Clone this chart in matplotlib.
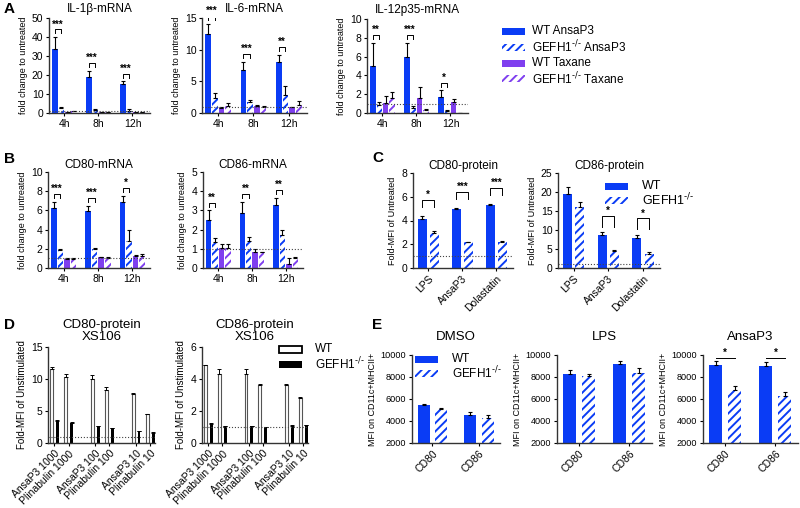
import numpy as np
import matplotlib
matplotlib.use('Agg')
import matplotlib.pyplot as plt
from matplotlib.patches import Rectangle

plt.rcParams['font.family'] = ['Liberation Sans', 'DejaVu Sans']
plt.rcParams['mathtext.default'] = 'regular'
plt.rcParams['hatch.linewidth'] = 1.4

BLUE = '#0a3cf5'
PURPLE = '#7f3fef'
KO = 'GEFH1$^{\\text{-/-}}$'

# ---- Panel A / B : mRNA, series order = WT AnsaP3, GEFH1 AnsaP3, WT Taxane, GEFH1 Taxane
timepoints = ['4h', '8h', '12h']

il1b_mean = [[33.5, 19.0, 15.3], [2.5, 1.6, 1.3], [0.5, 0.5, 0.4], [0.9, 0.5, 0.4]]
il1b_sd = [[6.5, 3.2, 1.3], [0.8, 0.5, 0.6], [0.2, 0.1, 0.1], [0.3, 0.1, 0.1]]
il1b_sig = ['***', '***', '***']

il6_mean = [[12.5, 6.8, 8.0], [2.3, 1.7, 2.8], [0.8, 1.1, 0.9], [1.1, 0.9, 1.3]]
il6_sd = [[1.6, 1.3, 1.2], [0.8, 0.4, 1.5], [0.1, 0.2, 0.1], [0.5, 0.2, 0.6]]
il6_sig = ['***', '***', '**']

il12_mean = [[5.0, 6.0, 1.7], [0.8, 0.5, 0.2], [1.1, 1.6, 1.2], [1.6, 0.3, 0.0]]
il12_sd = [[2.5, 1.5, 0.7], [0.4, 0.2, 0.1], [0.7, 1.2, 0.3], [0.6, 0.1, 0.0]]
il12_sig = ['**', '***', '*']

cd80m_mean = [[6.2, 5.9, 6.85], [1.9, 2.0, 2.8], [0.95, 1.1, 1.25], [0.95, 1.0, 1.3]]
cd80m_sd = [[0.7, 0.6, 0.7], [0.05, 0.1, 1.2], [0.1, 0.05, 0.1], [0.1, 0.1, 0.2]]
cd80m_sig = ['***', '***', '*']

cd86m_mean = [[2.5, 2.85, 3.3], [1.35, 1.4, 1.7], [1.05, 0.85, 0.2], [1.05, 0.85, 0.5]]
cd86m_sd = [[0.5, 0.6, 0.35], [0.2, 0.2, 0.3], [0.2, 0.15, 0.3], [0.2, 0.0, 0.05]]
cd86m_sig = ['**', '**', '**']

# ---- Panel C : protein, WT vs GEFH1
stimuli = ['LPS', 'AnsaP3', 'Dolastatin']
cd80p_wt = [4.15, 5.0, 5.3]
cd80p_wt_sd = [0.2, 0.02, 0.05]
cd80p_ko = [2.95, 2.15, 2.2]
cd80p_ko_sd = [0.2, 0.05, 0.05]
cd80p_sig = ['*', '***', '***']

cd86p_wt = [19.5, 8.7, 7.8]
cd86p_wt_sd = [1.8, 0.7, 1.0]
cd86p_ko = [16.0, 4.5, 3.7]
cd86p_ko_sd = [1.3, 0.2, 0.6]
cd86p_sig = ['', '*', '*']

# ---- Panel D : XS106
xs_labels = ['AnsaP3 1000', 'Plinabulin 1000', 'AnsaP3 100', 'Plinabulin 100',
             'AnsaP3 10', 'Plinabulin 10']
xs_cd80_wt = [11.6, 10.3, 10.0, 8.3, 7.7, 4.5]
xs_cd80_wt_sd = [0.2, 0.5, 0.7, 0.4, 0.1, 0.1]
xs_cd80_ko = [3.5, 3.1, 2.6, 2.3, 1.8, 1.6]
xs_cd80_ko_sd = [0.15, 0.15, 0.1, 0.1, 0.1, 0.15]

xs_cd86_wt = [4.85, 4.3, 4.3, 3.6, 3.65, 2.8]
xs_cd86_wt_sd = [0.05, 0.3, 0.3, 0.1, 0.05, 0.05]
xs_cd86_ko = [1.2, 1.05, 1.05, 1.0, 1.05, 1.1]
xs_cd86_ko_sd = [0.05, 0.03, 0.03, 0.02, 0.05, 0.05]

# ---- Panel E : MFI on CD11c+MHCII+
markers = ['CD80', 'CD86']
dmso_wt = [5450, 4550]
dmso_wt_sd = [100, 300]
dmso_ko = [5050, 4300]
dmso_ko_sd = [150, 250]

lps_wt = [8250, 9150]
lps_wt_sd = [350, 300]
lps_ko = [8100, 8350]
lps_ko_sd = [200, 500]

ansa_wt = [9050, 9000]
ansa_wt_sd = [400, 400]
ansa_ko = [6800, 6300]
ansa_ko_sd = [350, 300]
ansa_sig = ['*', '*']


fig = plt.figure(figsize=(8, 5.08), dpi=100)
W, H = 800, 508


def ax_px(x0, y0, x1, y1):
    return fig.add_axes([x0 / W, 1 - y1 / H, (x1 - x0) / W, (y1 - y0) / H])


def style(ax, ylabel, yfs=6.5):
    for s in ['top', 'right']:
        ax.spines[s].set_visible(False)
    for s in ['left', 'bottom']:
        ax.spines[s].set_linewidth(1.0)
        ax.spines[s].set_color('#333333')
    ax.tick_params(axis='both', labelsize=7.5, length=2.5, width=0.8, pad=1.5)
    ax.set_ylabel(ylabel, fontsize=yfs, labelpad=3)


def upper_err(ax, x, m, s, lw=0.8):
    ax.errorbar(x, m, yerr=[np.zeros(len(m)), s], fmt='none', ecolor='black',
                elinewidth=lw, capsize=1.5, capthick=lw)


def bracket(ax, x0, x1, y, leg, text, fs=7):
    ax.plot([x0, x0, x1, x1], [y - leg, y, y, y - leg], color='black', lw=0.7)
    ax.text((x0 + x1) / 2, y, text, ha='center', va='bottom', fontsize=fs,
            fontweight='bold')


def legend_px(styles, labels, px, py, dy, pw, ph, tx, fs):
    for k, (kw, lab) in enumerate(zip(styles, labels)):
        y = py + k * dy
        fig.add_artist(Rectangle((px / W, 1 - (y + ph / 2) / H), pw / W, ph / H,
                                 transform=fig.transFigure, **kw))
        fig.text(tx / W, 1 - y / H, lab, fontsize=fs, va='center', ha='left')


def mrna_panel(ax, means, sds, sig, ymax, step, title, pad):
    x = np.arange(len(timepoints))
    gap, w = 0.19, 0.16
    offs = [-1.5 * gap, -0.5 * gap, 0.5 * gap, 1.5 * gap]
    cols = [BLUE, BLUE, PURPLE, PURPLE]
    for i in range(4):
        xi = x + offs[i]
        if i % 2 == 0:
            ax.bar(xi, means[i], w, color=cols[i], lw=0)
        else:
            ax.bar(xi, means[i], w, color='white', edgecolor=cols[i],
                   hatch='////', lw=0)
        upper_err(ax, xi, means[i], sds[i])
    ax.axhline(1, ls=':', color='#444444', lw=0.8)
    for j in range(len(x)):
        top = means[0][j] + sds[0][j]
        bracket(ax, x[j] + offs[0], x[j] + offs[1], top + 0.08 * ymax,
                0.04 * ymax, sig[j])
    ax.set_xlim(-0.455, 2.515)
    ax.set_ylim(0, ymax)
    ax.set_yticks(np.arange(0, ymax + 0.01, step))
    ax.set_xticks(x)
    ax.set_xticklabels(timepoints, fontsize=8.5)
    ax.set_title(title, fontsize=8.5, pad=pad)
    style(ax, 'fold change to untreated')


def protein_panel(ax, wt, wt_sd, ko, ko_sd, sig, ymax, step, title, legh):
    x = np.arange(len(stimuli))
    off, w = 0.175, 0.26
    ax.bar(x - off, wt, w, color=BLUE, lw=0)
    ax.bar(x + off, ko, w, color='white', edgecolor=BLUE, hatch='////', lw=0)
    upper_err(ax, x - off, wt, wt_sd)
    upper_err(ax, x + off, ko, ko_sd)
    ax.axhline(1, ls=':', color='#444444', lw=0.8)
    for j in range(len(x)):
        if sig[j]:
            top = wt[j] + wt_sd[j]
            bracket(ax, x[j] - off, x[j] + off, top + 0.17 * ymax, legh * ymax,
                    sig[j])
    ax.set_xlim(-0.45, 2.49)
    ax.set_ylim(0, ymax)
    ax.set_yticks(np.arange(0, ymax + 0.01, step))
    ax.set_xticks(x)
    ax.set_xticklabels(stimuli, rotation=45, ha='right', rotation_mode='anchor',
                       fontsize=8)
    ax.set_title(title, fontsize=8.5, pad=3)
    style(ax, 'Fold-MFI of Untreated')


def xs_panel(ax, wt, wt_sd, ko, ko_sd, ymax, step, title):
    x = np.array([0, 1, 2.9, 3.9, 5.8, 6.8])
    off, w = 0.21, 0.2
    ax.bar(x - off, wt, w, color='white', edgecolor='#555555', lw=0.8)
    ax.bar(x + off, ko, w, color='black', lw=0)
    upper_err(ax, x - off, wt, wt_sd, lw=0.7)
    upper_err(ax, x + off, ko, ko_sd, lw=0.7)
    ax.axhline(1, ls=':', color='#444444', lw=0.8)
    ax.set_xlim(-0.46, 7.14)
    ax.set_ylim(0, ymax)
    ax.set_yticks(np.arange(0, ymax + 0.01, step))
    ax.set_xticks(x)
    ax.set_xticklabels(xs_labels, rotation=45, ha='right', rotation_mode='anchor',
                       fontsize=8)
    ax.set_title(title, fontsize=9.5, pad=5, linespacing=1.0)
    style(ax, 'Fold-MFI of Unstimulated', yfs=7)


def mfi_panel(ax, wt, wt_sd, ko, ko_sd, title, sig=None):
    x = np.arange(len(markers))
    off, w = 0.19, 0.26
    ax.bar(x - off, wt, w, color=BLUE, lw=0)
    ax.bar(x + off, ko, w, color='white', edgecolor=BLUE, hatch='////', lw=0)
    upper_err(ax, x - off, wt, wt_sd)
    upper_err(ax, x + off, ko, ko_sd)
    if sig:
        for j in range(len(x)):
            ax.plot([x[j] - off, x[j] + off], [9750, 9750], color='black', lw=0.7)
            ax.text(x[j], 9750, sig[j], ha='center', va='bottom', fontsize=7,
                    fontweight='bold')
    ax.set_xlim(-0.44, 1.45)
    ax.set_ylim(2000, 10000)
    ax.set_yticks(np.arange(2000, 10001, 2000))
    ax.set_xticks(x)
    ax.set_xticklabels(markers, rotation=45, ha='right', rotation_mode='anchor',
                       fontsize=8.5)
    ax.set_title(title, fontsize=9.5, pad=11)
    style(ax, 'MFI on CD11c+MHCII+', yfs=6.5)
    ax.tick_params(axis='y', labelsize=6.6)


# ---- A
mrna_panel(ax_px(49, 18, 150, 113), il1b_mean, il1b_sd, il1b_sig, 50, 10,
           'IL-1β-mRNA', 4)
mrna_panel(ax_px(202, 18, 307, 113), il6_mean, il6_sd, il6_sig, 15, 5,
           'IL-6-mRNA', 4)
mrna_panel(ax_px(367, 19, 468, 113), il12_mean, il12_sd, il12_sig, 10, 2,
           'IL-12p35-mRNA', 4)

solid_blue = dict(facecolor=BLUE, lw=0)
hatch_blue = dict(facecolor='white', edgecolor=BLUE, hatch='////', lw=0)
legend_px([solid_blue, hatch_blue, dict(facecolor=PURPLE, lw=0),
           dict(facecolor='white', edgecolor=PURPLE, hatch='////', lw=0)],
          ['WT AnsaP3', KO + ' AnsaP3', 'WT Taxane', KO + ' Taxane'],
          502, 31, 16, 23, 7, 532, 8.5)

# ---- B
mrna_panel(ax_px(48, 172, 150, 268), cd80m_mean, cd80m_sd, cd80m_sig, 10, 2,
           'CD80-mRNA', 3)
mrna_panel(ax_px(203, 172, 303, 268), cd86m_mean, cd86m_sd, cd86m_sig, 5, 1,
           'CD86-mRNA', 3)

# ---- C
protein_panel(ax_px(413, 173, 513, 268), cd80p_wt, cd80p_wt_sd, cd80p_ko,
              cd80p_ko_sd, cd80p_sig, 8, 2, 'CD80-protein', 0.07)
protein_panel(ax_px(558, 173, 660, 268), cd86p_wt, cd86p_wt_sd, cd86p_ko,
              cd86p_ko_sd, cd86p_sig, 25, 5, 'CD86-protein', 0.11)
legend_px([solid_blue, hatch_blue], ['WT', KO], 605, 186, 14, 23, 7, 642, 9)

# ---- D
xs_panel(ax_px(48, 347, 155, 443), xs_cd80_wt, xs_cd80_wt_sd, xs_cd80_ko,
         xs_cd80_ko_sd, 15, 5, 'CD80-protein\nXS106')
xs_panel(ax_px(202, 347, 308, 443), xs_cd86_wt, xs_cd86_wt_sd, xs_cd86_ko,
         xs_cd86_ko_sd, 6, 2, 'CD86-protein\nXS106')
legend_px([dict(facecolor='white', edgecolor='black', lw=1.3),
           dict(facecolor='black', lw=0)],
          ['WT', KO], 279, 349, 15, 23, 7, 315, 8.5)

# ---- E
mfi_panel(ax_px(412, 355, 500, 443), dmso_wt, dmso_wt_sd, dmso_ko, dmso_ko_sd,
          'DMSO')
mfi_panel(ax_px(557, 355, 652, 443), lps_wt, lps_wt_sd, lps_ko, lps_ko_sd, 'LPS')
mfi_panel(ax_px(703, 355, 798, 443), ansa_wt, ansa_wt_sd, ansa_ko, ansa_ko_sd,
          'AnsaP3', sig=ansa_sig)
legend_px([solid_blue, hatch_blue], ['WT', KO], 415, 359, 14, 23, 7, 452, 8.5)

# panel letters
for lab, px, py in [('A', 4, 9), ('B', 4, 159), ('C', 372, 158),
                    ('D', 4, 325), ('E', 372, 325)]:
    fig.text(px / W, 1 - py / H, lab, fontsize=11, fontweight='bold',
             va='center', ha='left')

fig.savefig('out.png', dpi=100)
